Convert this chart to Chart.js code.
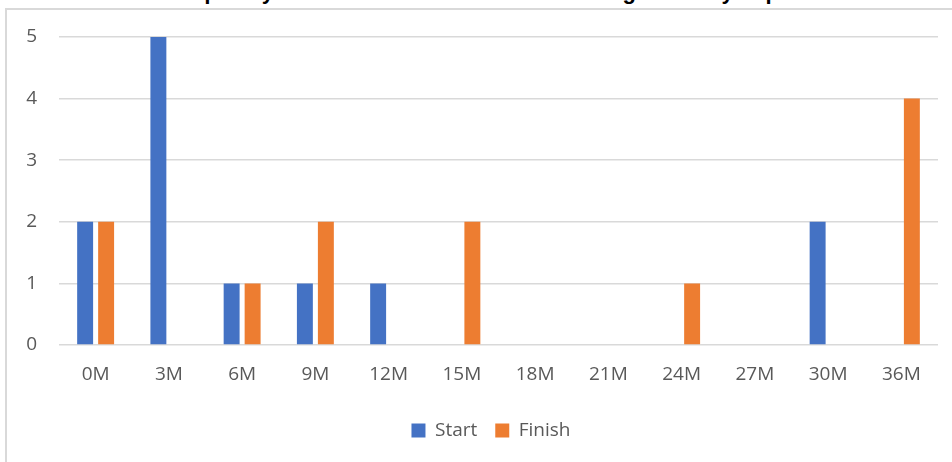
<!DOCTYPE html>
<html>
<head>
<meta charset="utf-8">
<script src="https://cdn.jsdelivr.net/npm/chart.js@4.4.1/dist/chart.umd.min.js"></script>
<style>
    html, body { margin: 0; padding: 0; background: #fff; overflow: hidden; }
    #wrap { position: relative; width: 952px; height: 462px; overflow: hidden; }
    #frame { position: absolute; left: 5px; top: 8px; width: 960px; height: 470px; border: 2px solid #D9D9D9; box-sizing: border-box; }
    #title { position: absolute; left: 0; top: -21px; width: 910px; text-align: center; font: bold 22px "Liberation Sans", sans-serif; color: #000; white-space: nowrap; }
    #chart-box { position: absolute; left: 0; top: 0; width: 952px; height: 462px; }
</style>
</head>
<body>
<div id="wrap">
    <div id="title">Value Frequency of Initiative Start and Finish Categorised by Impact</div>
    <div id="frame"></div>
    <div id="chart-box"><canvas id="freqChart"></canvas></div>
</div>
<script>
// Chart data
const categories = ["0M", "3M", "6M", "9M", "12M", "15M", "18M", "21M", "24M", "27M", "30M", "36M"];
const startCounts = [2, 5, 1, 1, 1, 0, 0, 0, 0, 0, 2, 0];
const finishCounts = [2, 0, 1, 2, 0, 2, 0, 0, 1, 0, 0, 4];
const yTicks = [0, 1, 2, 3, 4, 5];

const textColor = "#595959";
const gridColor = "#D9D9D9";
const fontFamily = "'Open Sans', 'Liberation Sans', sans-serif";

// nudge the legend a bit right, like the original
const legendShift = {
    id: 'legendShift',
    afterLayout(chart) {
        if (chart.legend) {
            chart.legend.left += 17;
            chart.legend.right += 17;
        }
    }
};

document.addEventListener("DOMContentLoaded", () => {
    const ctx = document.getElementById("freqChart").getContext("2d");

    new Chart(ctx, {
        type: 'bar',
        data: {
            labels: categories,
            datasets: [
                {
                    label: 'Start',
                    data: startCounts,
                    backgroundColor: '#4472C4',
                    categoryPercentage: 0.573,
                    barPercentage: 0.76
                },
                {
                    label: 'Finish',
                    data: finishCounts,
                    backgroundColor: '#ED7D31',
                    categoryPercentage: 0.573,
                    barPercentage: 0.76
                }
            ]
        },
        plugins: [legendShift],
        options: {
            responsive: true,
            maintainAspectRatio: false,
            animation: false,
            layout: {
                padding: { left: 10, right: 14, top: 37, bottom: 12 }
            },
            plugins: {
                legend: {
                    position: 'bottom',
                    labels: {
                        boxWidth: 14,
                        boxHeight: 14,
                        color: textColor,
                        font: { family: fontFamily, size: 19 },
                        padding: 18
                    }
                },
                tooltip: { enabled: false }
            },
            scales: {
                x: {
                    grid: { display: false },
                    border: { display: false },
                    ticks: {
                        color: textColor,
                        font: { family: fontFamily, size: 19 },
                        padding: 10,
                        maxRotation: 0
                    },
                    afterFit: (scale) => { scale.height = 58; }
                },
                y: {
                    min: 0,
                    max: 5,
                    afterBuildTicks: (scale) => {
                        scale.ticks = yTicks.map(v => ({ value: v }));
                    },
                    grid: { color: gridColor, lineWidth: 1.5, drawTicks: false },
                    border: { display: false },
                    ticks: {
                        color: textColor,
                        font: { family: fontFamily, size: 19 },
                        padding: 22
                    },
                    afterFit: (scale) => { scale.width = 49; }
                }
            }
        }
    });
});
</script>
</body>
</html>
